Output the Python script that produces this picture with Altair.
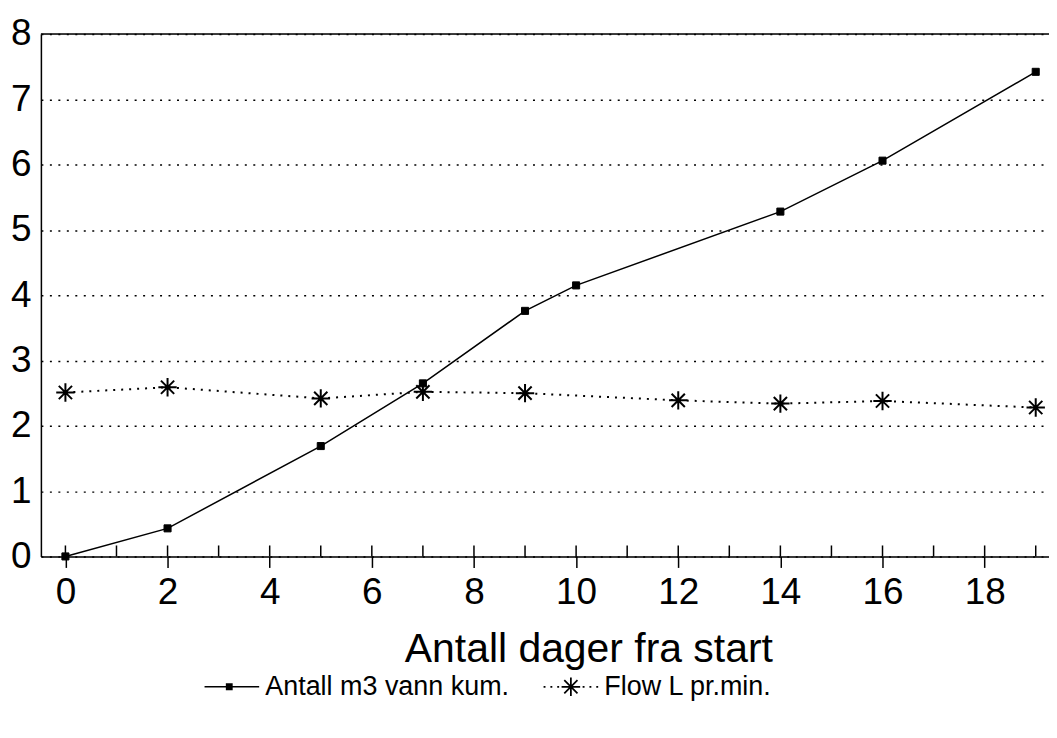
import altair as alt
import pandas as pd

# ---- data ----
days_m3 = [0, 2, 5, 7, 9, 10, 14, 16, 19]
m3_cum = [0.0, 0.43, 1.69, 2.65, 3.76, 4.15, 5.28, 6.06, 7.42]
days_flow = [0, 2, 5, 7, 9, 12, 14, 16, 19]
flow = [2.51, 2.59, 2.42, 2.52, 2.50, 2.39, 2.34, 2.38, 2.28]
series_names = ["Antall m3 vann kum.", "Flow L pr.min."]
x_label_values = [0, 2, 4, 6, 8, 10, 12, 14, 16, 18]
x_all_ticks = list(range(0, 20))
y_tick_values = [0, 1, 2, 3, 4, 5, 6, 7, 8]
y_top = [8]
x_title = "Antall dager fra start"

W, H = 1011, 524
FONT = "Liberation Sans"

df = pd.DataFrame(
    {"day": days_m3 + days_flow,
     "value": m3_cum + flow,
     "series": [series_names[0]] * len(days_m3) + [series_names[1]] * len(days_flow)}
)
ticks_df = pd.DataFrame({"day": x_all_ticks})
top_df = pd.DataFrame({"value": y_top})

xscale = alt.Scale(domain=[-0.48, 19.26], nice=False, zero=False)
yscale = alt.Scale(domain=[0, 8], nice=False)

xaxis = alt.Axis(
    values=x_label_values, grid=False, tickSize=11, tickWidth=1.5, tickColor="black",
    domainColor="black", domainWidth=1.5, labelFontSize=37, labelPadding=7,
    labelColor="black", labelFont=FONT, title=x_title, titleFont=FONT,
    titleFontSize=41, titleFontWeight="normal", titleColor="black",
    titleX=549, titleAlign="center", titlePadding=19,
)
yaxis = alt.Axis(
    values=y_tick_values, grid=True, gridDash=[2, 6.5], gridWidth=1.5, gridColor="black",
    ticks=False, domainColor="black", domainWidth=1.5, labelFontSize=37,
    labelPadding=10, labelColor="black", labelFont=FONT, title=None,
)

X = alt.X("day:Q", scale=xscale, axis=xaxis)
Y = alt.Y("value:Q", scale=yscale, axis=yaxis)

SQUARE = "M-1,-1H1V1H-1Z"
ASTER = "M0,-1V1M-1,0H1M-0.72,-0.72L0.72,0.72M-0.72,0.72L0.72,-0.72"
# legend symbols drawn with filled shapes only (line + square / dots + asterisk)
LEG1 = "M-1,-0.028H1V0.028H-1ZM-0.22,-0.13H0.03V0.13H-0.22Z"
LEG2 = ("M-1,-0.03h0.07v0.06h-0.07zM-0.75,-0.03h0.07v0.06h-0.07zM-0.5,-0.03h0.07v0.06h-0.07z"
        "M0.43,-0.03h0.07v0.06h-0.07zM0.68,-0.03h0.07v0.06h-0.07zM0.93,-0.03h0.07v0.06h-0.07z"
        "M-0.032,-0.34H0.032V0.34H-0.032Z"
        "M-0.34,-0.032H0.34V0.032H-0.34Z"
        "M-0.219,-0.264L0.264,0.219L0.219,0.264L-0.264,-0.219Z"
        "M-0.219,0.264L-0.264,0.219L0.219,-0.264L0.264,-0.219Z")

base = alt.Chart(df)

top_rule = alt.Chart(top_df).mark_rule(color="black", strokeWidth=1.5).encode(y=Y)

minor_ticks = alt.Chart(ticks_df).mark_rule(color="black", strokeWidth=1.5).encode(
    x=X, y=alt.value(H - 11), y2=alt.value(H)
)

line_m3 = base.transform_filter(alt.datum.series == series_names[0]).mark_line(
    color="black", strokeWidth=1.5
).encode(x=X, y=Y)

line_flow = base.transform_filter(alt.datum.series == series_names[1]).mark_line(
    color="black", strokeWidth=2, strokeDash=[2, 6]
).encode(x=X, y=Y)

pts_m3 = base.transform_filter(alt.datum.series == series_names[0]).mark_point(
    shape=SQUARE, size=50, filled=True, fill="black", stroke="black", strokeWidth=1, opacity=1
).encode(x=X, y=Y)

pts_flow = base.transform_filter(alt.datum.series == series_names[1]).mark_point(
    shape=ASTER, size=340, filled=False, stroke="black", strokeWidth=2, opacity=1
).encode(x=X, y=Y)

legend_layer = base.mark_point(
    filled=True, fill="black", stroke="black", strokeWidth=0, size=3000, opacity=1, clip=True
).encode(
    x=X,
    y=alt.value(-3000),
    shape=alt.Shape(
        "series:N",
        scale=alt.Scale(domain=series_names, range=[LEG1, LEG2]),
        legend=alt.Legend(
            title=None, orient="none", direction="horizontal", legendX=164, legendY=627,
            symbolSize=3000, symbolFillColor="black", symbolStrokeColor="black",
            symbolStrokeWidth=0, labelFontSize=27, labelFont=FONT, labelColor="black",
            labelOffset=6, columnPadding=34, labelLimit=400,
        ),
    ),
)

chart = alt.layer(
    top_rule, minor_ticks, line_m3, line_flow, pts_m3, pts_flow, legend_layer
).properties(
    width=W, height=H, autosize="none",
    padding={"left": 33, "top": 25, "right": 0, "bottom": 160},
).configure_view(stroke=None).configure(background="white")

chart.save("out.html", embed_options={"renderer": "svg", "actions": False})
